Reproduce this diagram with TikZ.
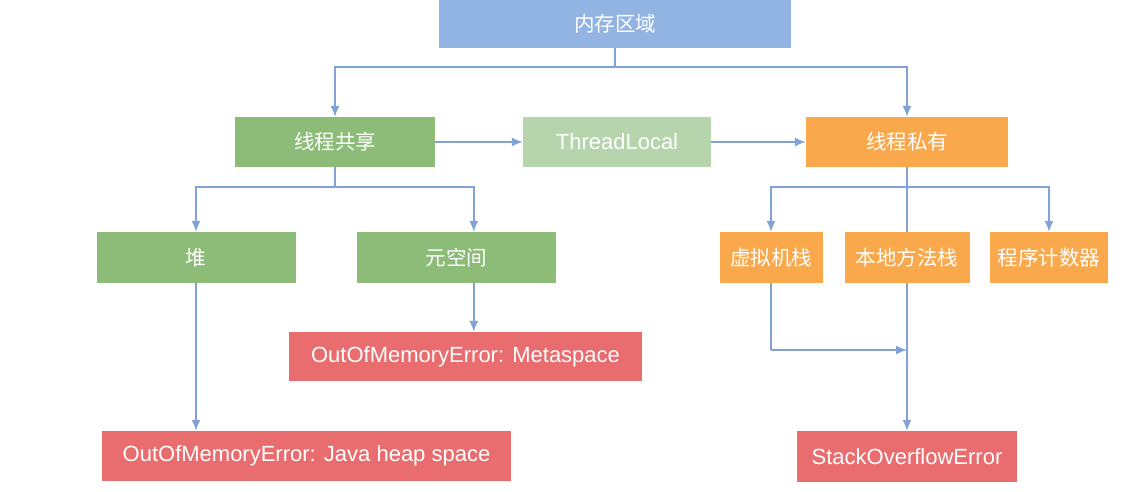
\documentclass[tikz,border=0pt]{standalone}
\usepackage{fontspec}
\setmainfont{Liberation Sans}
\newfontfamily\cjk{Noto Sans CJK SC}
\usetikzlibrary{arrows.meta}
\definecolor{topblue}{RGB}{146,180,226}
\definecolor{sgreen}{RGB}{140,188,120}
\definecolor{lgreen}{RGB}{182,213,172}
\definecolor{porange}{RGB}{250,168,76}
\definecolor{ered}{RGB}{233,108,110}
\definecolor{lineblue}{RGB}{128,162,214}
\tikzset{
  box/.style={rectangle, inner sep=0pt, text=white, font=\fontsize{22}{26}\selectfont},
  zh/.style={box, font=\cjk\fontsize{20.5}{24}\selectfont},
  conn/.style={draw=lineblue, line width=1.5pt},
  arr/.style={conn, -{Latex[length=11pt,width=9pt]}},
}
\begin{document}
\begin{tikzpicture}[x=1pt,y=-1pt]
\useasboundingbox[fill=white] (0,0) rectangle (1133,492);
% nodes
\node[zh, fill=topblue, minimum width=352pt, minimum height=48pt] (top) at (615,24) {内存区域};
\node[zh, fill=sgreen, minimum width=200pt, minimum height=50pt] (gs) at (335,142) {线程共享};
\node[box, fill=lgreen, minimum width=188pt, minimum height=50pt] (tl) at (617,142) {ThreadLocal};
\node[zh, fill=porange, minimum width=202pt, minimum height=50pt] (tp) at (907,142) {线程私有};
\node[zh, fill=sgreen, minimum width=199pt, minimum height=51pt] (heap) at (196,257.5) {堆};
\node[zh, fill=sgreen, minimum width=199pt, minimum height=51pt] (meta) at (456.5,257.5) {元空间};
\node[zh, fill=porange, minimum width=103pt, minimum height=51pt] (vm) at (771,257.5) {虚拟机栈};
\node[zh, fill=porange, minimum width=125pt, minimum height=51pt] (native) at (907,257.5) {本地方法栈};
\node[zh, fill=porange, minimum width=118pt, minimum height=51pt] (pc) at (1049,257.5) {程序计数器};
\node[box, fill=ered, minimum width=353pt, minimum height=49pt] (metaerr) at (465.5,356.5) {OutOfMemoryError: Metaspace};
\node[box, fill=ered, minimum width=409pt, minimum height=50pt] (heaperr) at (306.5,456) {OutOfMemoryError: Java heap space};
\node[box, fill=ered, minimum width=220pt, minimum height=51pt] (soe) at (907,456.5) {StackOverflowError};
% junctions
\coordinate (j1) at (615,67);
\coordinate (j2) at (335,187);
\coordinate (j3) at (907,187);
\coordinate (j4) at (771,350);
% connectors
\draw[conn] (top.south) -- (j1);
\draw[arr] (j1) -| (gs.north);
\draw[arr] (j1) -| (tp.north);
\draw[arr] (gs.east) -- (tl.west);
\draw[arr] (tl.east) -- (tp.west);
\draw[conn] (gs.south) -- (j2);
\draw[arr] (j2) -| ([xshift=117pt]meta.north west);
\draw[arr] (j2) -| (heap.north);
\draw[arr] ([xshift=117pt]meta.south west) -- ([xshift=117pt]meta.south west |- metaerr.north);
\draw[arr] (heap.south) -- (heap.south |- heaperr.north);
\draw[conn] (tp.south) -- (native.north);
\draw[arr] (j3) -| (vm.north);
\draw[arr] (j3) -| (pc.north);
\draw[conn] (vm.south) -- (j4);
\draw[arr] (j4) -- (j4 -| native.south);
\draw[arr] (native.south) -- (soe.north);
\end{tikzpicture}
\end{document}
